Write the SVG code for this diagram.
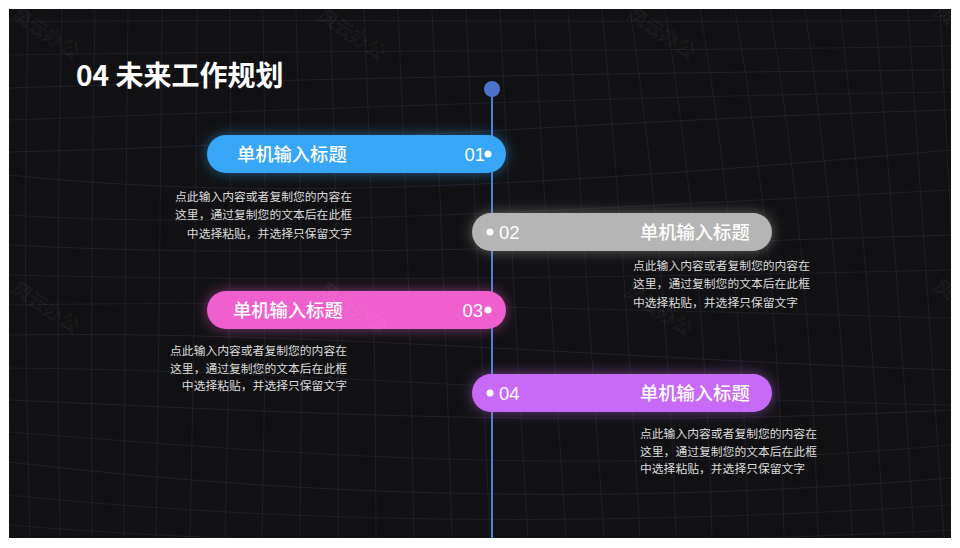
<svg xmlns="http://www.w3.org/2000/svg" width="960" height="548" viewBox="0 0 960 548">
<defs>
<style>
.grid{fill:none;stroke:#1f1e26;stroke-width:1}
.gridp{fill:none;stroke:#251f2a;stroke-width:1}
.wm{font-family:"Noto Sans CJK SC","Noto Sans",sans-serif;font-size:19px;fill:none;stroke:#ffffff;stroke-opacity:0.09;stroke-width:0.6}
.title{font-family:"Noto Sans CJK SC","Noto Sans",sans-serif;font-size:28px;font-weight:700;fill:#ffffff}
.pt{font-family:"Noto Sans CJK SC","Noto Sans",sans-serif;font-size:18.3px;font-weight:500;fill:#ffffff}
.num{font-family:"Liberation Sans","Noto Sans",sans-serif;font-size:18.5px;fill:#ffffff}
.desc{font-family:"Noto Sans CJK SC","Noto Sans",sans-serif;font-size:11.8px;fill:#dcdcdc}
.dot{fill:#ffffff}
</style>
<filter id="glow" x="-20%" y="-100%" width="140%" height="300%">
<feGaussianBlur in="SourceGraphic" stdDeviation="7" result="b"/>
<feComponentTransfer in="b" result="b2"><feFuncA type="linear" slope="0.5"/></feComponentTransfer>
<feMerge><feMergeNode in="b2"/><feMergeNode in="SourceGraphic"/></feMerge>
</filter>
<clipPath id="bgclip"><rect x="9" y="9" width="942" height="529"/></clipPath>
</defs>
<rect x="0" y="0" width="960" height="548" fill="#ffffff"/>
<rect x="9" y="9" width="942" height="529" fill="#111113"/>
<g id="background-grid" clip-path="url(#bgclip)">
<path class="grid" d="M28 9 Q22 270 30 538"/>
<path class="grid" d="M62 9 Q55 270 60 538"/>
<path class="grid" d="M95 9 Q90 270 92 538"/>
<path class="grid" d="M128 9 Q125 270 124 538"/>
<path class="grid" d="M162 9 Q160 270 156 538"/>
<path class="grid" d="M197 9 Q196 270 190 538"/>
<path class="grid" d="M230 9 Q232 270 225 538"/>
<path class="grid" d="M263 9 Q268 270 262 538"/>
<path class="grid" d="M296 9 Q304 270 300 538"/>
<path class="grid" d="M330 9 Q340 270 338 538"/>
<path class="grid" d="M364 9 Q376 270 376 538"/>
<path class="grid" d="M398 9 Q410 270 414 538"/>
<path class="grid" d="M432 9 Q444 270 452 538"/>
<path class="grid" d="M466 9 Q478 270 490 538"/>
<path class="grid" d="M500 9 Q512 270 528 538"/>
<path class="grid" d="M534 9 Q548 270 566 538"/>
<path class="grid" d="M568 9 Q586 270 604 538"/>
<path class="grid" d="M602 9 Q626 270 640 538"/>
<path class="grid" d="M630 9 Q668 270 676 538"/>
<path class="grid" d="M665 9 Q706 270 712 538"/>
<path class="grid" d="M700 9 Q744 270 748 538"/>
<path class="grid" d="M735 9 Q780 270 784 538"/>
<path class="grid" d="M770 9 Q812 270 818 538"/>
<path class="grid" d="M805 9 Q842 270 852 538"/>
<path class="grid" d="M840 9 Q870 270 884 538"/>
<path class="grid" d="M875 9 Q898 270 914 538"/>
<path class="grid" d="M908 9 Q926 270 944 538"/>
<path class="grid" d="M940 9 Q952 270 970 538"/>
<path class="grid" d="M9 22 C300 18 650 24 951 20"/>
<path class="grid" d="M9 55 C300 50 650 52 951 46"/>
<path class="gridp" d="M9 88 C250 80 650 72 951 70"/>
<path class="grid" d="M9 120 C300 110 620 96 951 92"/>
<path class="gridp" d="M9 152 C300 146 640 118 951 110"/>
<path class="gridp" d="M9 175 C250 200 500 190 951 150"/>
<path class="grid" d="M9 215 C250 230 560 210 951 190"/>
<path class="gridp" d="M9 245 C300 260 600 245 951 235"/>
<path class="grid" d="M9 275 C300 282 600 278 951 270"/>
<path class="grid" d="M9 305 C300 300 640 310 951 318"/>
<path class="gridp" d="M9 335 C300 330 640 360 951 370"/>
<path class="grid" d="M9 368 C300 370 640 400 951 405"/>
<path class="gridp" d="M9 400 C250 410 560 430 951 410"/>
<path class="grid" d="M9 432 C250 450 560 480 951 445"/>
<path class="gridp" d="M9 462 C250 490 560 510 951 478"/>
<path class="grid" d="M9 495 C250 520 560 530 951 505"/>
<path class="grid" d="M9 525 C250 545 560 550 951 530"/>
</g>
<g id="connectors">
<line x1="492" y1="89" x2="492" y2="538" stroke="#4f7fd9" stroke-width="2"/>
<circle cx="492" cy="89" r="8" fill="#4a74c9"/>
</g>
<g id="title"><text class="title" x="76" y="86">04 未来工作规划</text></g>
<g id="node-01">
<rect x="207" y="135" width="299" height="38" rx="19" fill="#38a6f6" filter="url(#glow)"/>
<text class="pt" x="237" y="161">单机输入标题</text>
<text class="num" x="485" y="161" text-anchor="end">01</text>
<circle class="dot" cx="488" cy="154" r="3.5"/>
<text class="desc" text-anchor="end"><tspan x="352" y="200.5">点此输入内容或者复制您的内容在</tspan><tspan x="352" y="219">这里，通过复制您的文本后在此框</tspan><tspan x="352" y="237.5">中选择粘贴，并选择只保留文字</tspan></text>
</g>
<g id="node-02">
<rect x="472" y="213" width="300" height="38" rx="19" fill="#b5b5b5" filter="url(#glow)"/>
<circle class="dot" cx="490" cy="232" r="3.5"/>
<text class="num" x="499" y="238.5">02</text>
<text class="pt" x="640" y="238.5">单机输入标题</text>
<text class="desc"><tspan x="633" y="269.5">点此输入内容或者复制您的内容在</tspan><tspan x="633" y="288">这里，通过复制您的文本后在此框</tspan><tspan x="633" y="306.5">中选择粘贴，并选择只保留文字</tspan></text>
</g>
<g id="node-03">
<rect x="207" y="291" width="299" height="38" rx="19" fill="#ef5fcd" filter="url(#glow)"/>
<text class="pt" x="233" y="316.5">单机输入标题</text>
<text class="num" x="483" y="316.5" text-anchor="end">03</text>
<circle class="dot" cx="488" cy="310" r="3.5"/>
<text class="desc" text-anchor="end"><tspan x="347" y="354.5">点此输入内容或者复制您的内容在</tspan><tspan x="347" y="372.5">这里，通过复制您的文本后在此框</tspan><tspan x="347" y="390">中选择粘贴，并选择只保留文字</tspan></text>
</g>
<g id="node-04">
<rect x="472" y="374" width="300" height="38" rx="19" fill="#c86bf8" filter="url(#glow)"/>
<circle class="dot" cx="490" cy="393" r="3.5"/>
<text class="num" x="499" y="399.5">04</text>
<text class="pt" x="640" y="399.5">单机输入标题</text>
<text class="desc"><tspan x="640" y="437.5">点此输入内容或者复制您的内容在</tspan><tspan x="640" y="455.5">这里，通过复制您的文本后在此框</tspan><tspan x="640" y="473">中选择粘贴，并选择只保留文字</tspan></text>
</g>
<g id="watermarks" clip-path="url(#bgclip)">
<text class="wm" transform="translate(46 33) rotate(33)" text-anchor="middle" dy="7">风云办公</text>
<text class="wm" transform="translate(352 34) rotate(33)" text-anchor="middle" dy="7">风云办公</text>
<text class="wm" transform="translate(662 33) rotate(33)" text-anchor="middle" dy="7">风云办公</text>
<text class="wm" transform="translate(968 30) rotate(33)" text-anchor="middle" dy="7">风云办公</text>
<text class="wm" transform="translate(46 307) rotate(33)" text-anchor="middle" dy="7">风云办公</text>
<text class="wm" transform="translate(354 308) rotate(33)" text-anchor="middle" dy="7">风云办公</text>
<text class="wm" transform="translate(659 310) rotate(33)" text-anchor="middle" dy="7">风云办公</text>
<text class="wm" transform="translate(968 305) rotate(33)" text-anchor="middle" dy="7">风云办公</text>
</g>
</svg>
